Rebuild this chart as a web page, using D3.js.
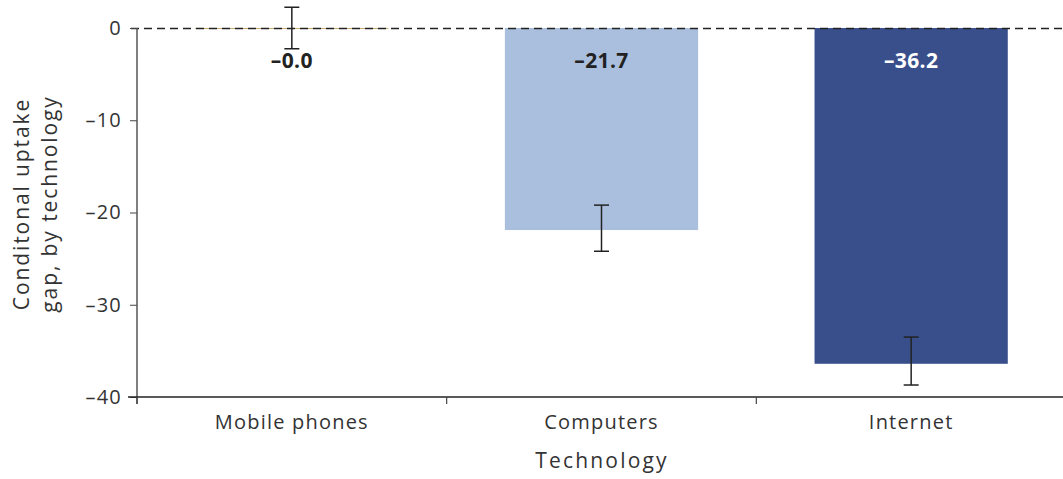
<!DOCTYPE html>
<html><head><meta charset="utf-8">
<script src="https://cdn.jsdelivr.net/npm/d3@7"></script>
<style>body{margin:0;background:#fff}svg{display:block}text{font-family:"Open Sans",sans-serif}</style>
</head><body>
<svg id="chart" width="1063" height="479"></svg>
<script>
const categories = ["Mobile phones", "Computers", "Internet"];
const values = [0, -21.9, -36.4];
const labels = ["\u20130.0", "\u201321.7", "\u201336.2"];
const errLow = [-2.25, -24.2, -38.7];
const errHigh = [2.25, -19.2, -33.5];
const colors = ["#c9ab73", "#aabfde", "#384f8b"];
const labelColors = ["#222", "#222", "#fff"];
const yTicks = [0, -10, -20, -30, -40];

const svg = d3.select("#chart");
const x = d3.scaleBand().domain(categories).range([137, 1066]).paddingInner(0.376).paddingOuter(0.188);
const y = d3.scaleLinear().domain([-40, 0]).range([397, 28]);

// bars
svg.selectAll("rect.bar").data(categories).join("rect")
  .attr("x", d => x(d)).attr("width", x.bandwidth())
  .attr("y", (d,i) => y(Math.max(0, values[i])))
  .attr("height", (d,i) => Math.max(Math.abs(y(values[i]) - y(0)), 1))
  .attr("fill", (d,i) => colors[i]);

// zero dashed line
svg.append("line").attr("x1", 131).attr("x2", 1063).attr("y1", y(0)+0.5).attr("y2", y(0)+0.5)
  .attr("stroke", "#222").attr("stroke-width", 1.3).attr("stroke-dasharray", "8,5");

// y axis
const yAxis = svg.append("g").attr("transform", "translate(137,0)")
  .call(d3.axisLeft(y).tickValues(yTicks).tickSize(7).tickFormat(d => d === 0 ? "0" : "\u2013" + Math.abs(d)));
yAxis.select(".domain").remove();
yAxis.selectAll(".tick line").attr("stroke", "#444");
yAxis.selectAll("text").attr("font-size", 20).attr("letter-spacing", 1.2).attr("fill", "#333").attr("x", -15);
svg.append("line").attr("x1", 137).attr("x2", 137).attr("y1", y(0)).attr("y2", 404).attr("stroke", "#555").attr("stroke-width", 1.5);

// x axis
const xAxis = svg.append("g").attr("transform", "translate(0,397)")
  .call(d3.axisBottom(x).tickSize(0).tickSizeOuter(0));
xAxis.select(".domain").remove();
svg.append("line").attr("x1", 128).attr("x2", 1063).attr("y1", 397).attr("y2", 397).attr("stroke", "#222").attr("stroke-width", 1.5);
xAxis.selectAll("text").attr("font-size", 20).attr("letter-spacing", 1.2).attr("fill", "#333").attr("dy", "0").attr("y", 32);
const step = x.step();
svg.selectAll("line.xt").data(categories).join("line").attr("class","xt")
  .attr("x1", d => x(d) - x.paddingInner()*step/2).attr("x2", d => x(d) - x.paddingInner()*step/2)
  .attr("y1", 397).attr("y2", 404).attr("stroke", "#444").attr("stroke-width", 1.2);

// error bars
const eg = svg.append("g").attr("stroke", "#222").attr("stroke-width", 1.5);
categories.forEach((c, i) => {
  const cx = x(c) + x.bandwidth()/2;
  eg.append("line").attr("x1", cx).attr("x2", cx).attr("y1", y(errHigh[i])).attr("y2", y(errLow[i]));
  eg.append("line").attr("x1", cx-7.5).attr("x2", cx+7.5).attr("y1", y(errHigh[i])).attr("y2", y(errHigh[i]));
  eg.append("line").attr("x1", cx-7.5).attr("x2", cx+7.5).attr("y1", y(errLow[i])).attr("y2", y(errLow[i]));
});

// value labels
svg.selectAll("text.val").data(categories).join("text").attr("class","val")
  .attr("x", d => x(d) + x.bandwidth()/2).attr("y", 67.5)
  .attr("text-anchor", "middle").attr("font-size", 21).attr("font-weight", 700).attr("letter-spacing", 0.4)
  .attr("fill", (d,i) => labelColors[i]).text((d,i) => labels[i]);

// axis titles
svg.append("text").attr("x", 602).attr("y", 468).attr("text-anchor", "middle")
  .attr("font-size", 21).attr("letter-spacing", 2.2).attr("fill", "#333").text("Technology");
const yt = svg.append("text").attr("transform", "translate(0,204) rotate(-90)")
  .attr("text-anchor", "middle").attr("font-size", 21).attr("letter-spacing", 1.9).attr("fill", "#333");
yt.append("tspan").attr("x", 0).attr("y", 29).text("Conditonal uptake");
yt.append("tspan").attr("x", 0).attr("y", 57).text("gap, by technology");
</script>
</body></html>
